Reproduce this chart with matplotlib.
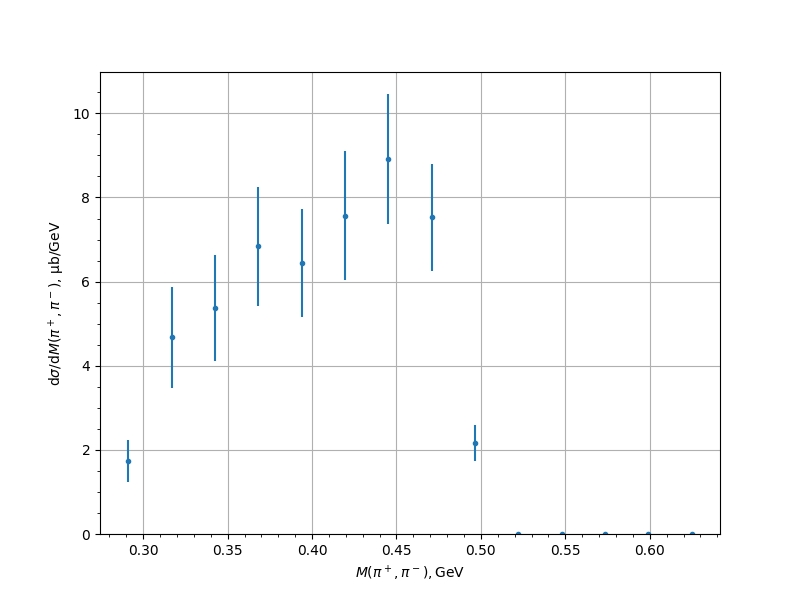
import matplotlib
matplotlib.use("Agg")
import matplotlib.pyplot as plt

mass = [0.2911, 0.3172, 0.3426, 0.3681, 0.3940, 0.4195, 0.4449, 0.4710,
        0.4965, 0.5220, 0.5478, 0.5734, 0.5990, 0.6249]
xsec = [1.73, 4.68, 5.37, 6.84, 6.44, 7.57, 8.91, 7.53,
        2.16, 0.0, 0.0, 0.0, 0.0, 0.0]
err = [0.50, 1.20, 1.26, 1.42, 1.28, 1.53, 1.55, 1.27,
       0.42, 0.0, 0.0, 0.0, 0.0, 0.0]

fig, ax = plt.subplots(figsize=(8, 6), dpi=100)
ax.errorbar(mass, xsec, yerr=err, fmt=".")
ax.set_ylim(bottom=0)
ax.minorticks_on()
ax.grid(True, which="major")
ax.set_xlabel(r"$M(\pi^+,\pi^-), \mathrm{GeV}$")
ax.set_ylabel(r"d$\sigma$/d$M(\pi^+,\pi^-)$, $\mathrm{\mu}$b/GeV")

fig.savefig("out.png")
